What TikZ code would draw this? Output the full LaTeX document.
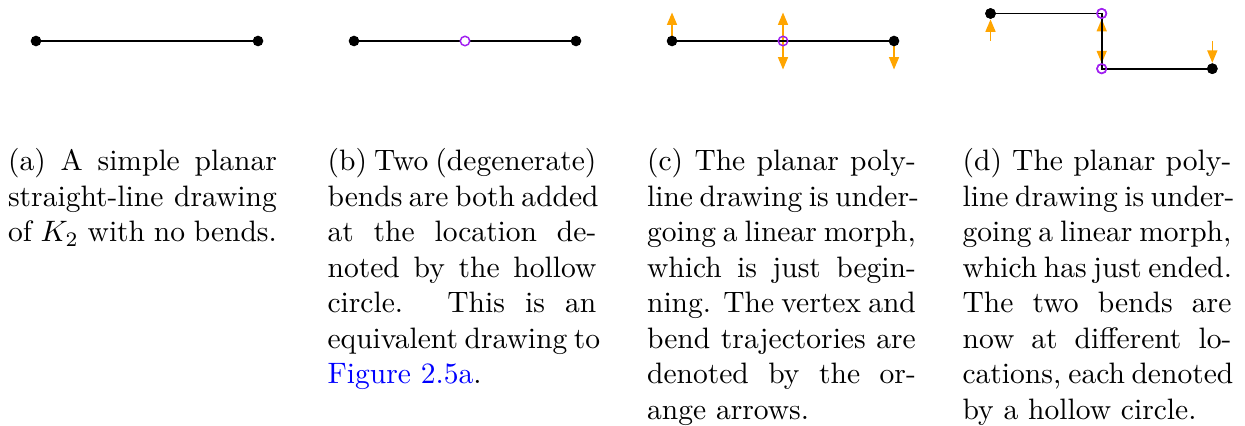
\documentclass[tikz,border=0pt]{standalone}
\usetikzlibrary{arrows.meta}
\definecolor{bendpurple}{RGB}{160,32,240}
\definecolor{traj}{RGB}{255,165,0}
\definecolor{linkblue}{RGB}{0,0,255}
\newlength{\cw}
\setlength{\cw}{91pt}
\newcommand{\jl}[1]{\makebox[\cw][s]{#1}\\}
\tikzset{
  vert/.style={circle,fill=black,inner sep=0pt,minimum size=3.6pt},
  bendpt/.style={circle,draw=bendpurple,line width=0.5pt,inner sep=0pt,minimum size=3.2pt},
  edge/.style={line width=0.6pt,black},
  trajarrow/.style={draw=traj,line width=0.45pt,-{Triangle[length=4.2pt,width=3.4pt]}},
  captext/.style={anchor=base west,inner sep=0pt,font=\normalsize}
}
\begin{document}
\begin{tikzpicture}[x=0.3386pt,y=-0.3386pt]
\useasboundingbox (0,0) rectangle (1245,426);
% (a)
\node[vert] (a1) at (36,41) {};
\node[vert] (a2) at (258,41) {};
\draw[edge] (a1.center) -- (a2.center);
% (b)
\node[vert] (b1) at (354,41) {};
\node[vert] (b2) at (576,41) {};
\draw[edge] (b1.center) -- (b2.center);
\node[bendpt,fill=white] (bm) at (465,41) {};
% (c)
\coordinate (c1) at (672,41);
\coordinate (cm) at (783,41);
\coordinate (c2) at (894,41);
\coordinate (c1u) at (672,12.5);
\coordinate (cmu) at (783,12.5);
\coordinate (cmd) at (783,69.5);
\coordinate (c2d) at (894,69.5);
\draw[trajarrow] (c1) -- (c1u);
\draw[trajarrow] (cm) -- (cmu);
\draw[trajarrow] (cm) -- (cmd);
\draw[trajarrow] (c2) -- (c2d);
\draw[edge] (c1) -- (c2);
\node[vert] (c1n) at (c1) {};
\node[vert] (c2n) at (c2) {};
\node[bendpt] (cmn) at (cm) {};
% (d)
\node[vert] (d1) at (990.5,13.5) {};
\node[bendpt] (d2) at (1101.7,13.5) {};
\node[bendpt] (d3) at (1101.7,68.7) {};
\node[vert] (d4) at (1212.3,68.7) {};
\coordinate (d1s) at (990.5,41);
\coordinate (dms) at (1101.7,41);
\coordinate (d4s) at (1212.3,41);
\draw[trajarrow] (d1s) -- (d1);
\draw[trajarrow] (dms) -- (d2);
\draw[trajarrow] (dms) -- (d3);
\draw[trajarrow] (d4s) -- (d4);
\draw[edge] (d1.center) -- (d2.center) -- (d3.center) -- (d4.center);
\node[vert] at (d1) {};
\node[vert] at (d4) {};
\node[bendpt] at (d2) {};
\node[bendpt] at (d3) {};
% captions
\node[captext] (capa) at (7.5,171) {\parbox[t]{\cw}{%
\jl{(a) A simple planar}
\jl{straight-line drawing}
of $K_2$ with no bends.}};
\node[captext] (capb) at (327,171) {\parbox[t]{\cw}{%
\jl{(b) Two (degenerate)}
\jl{bends are both added}
\jl{at the location de-}
\jl{noted by the hollow}
\jl{circle. This is an}
\jl{equivalent drawing to}
\textcolor{linkblue}{Figure 2.5a}.}};
\node[captext] (capc) at (646.5,171) {\parbox[t]{\cw}{%
\jl{(c) The planar poly-}
\jl{line drawing is under-}
\jl{going a linear morph,}
\jl{which is just begin-}
\jl{ning. The vertex and}
\jl{bend trajectories are}
\jl{denoted by the or-}
ange arrows.}};
\node[captext] (capd) at (962,171) {\parbox[t]{\cw}{%
\jl{(d) The planar poly-}
\jl{line drawing is under-}
\jl{going a linear morph,}
\jl{which has just ended.}
\jl{The two bends are}
\jl{now at different lo-}
\jl{cations, each denoted}
by a hollow circle.}};
\end{tikzpicture}
\end{document}
